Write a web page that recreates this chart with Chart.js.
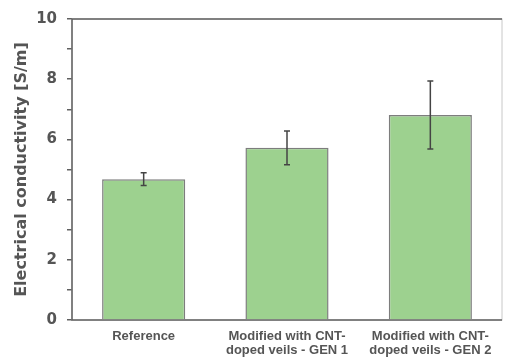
<!DOCTYPE html>
<html>
<head>
<meta charset="utf-8">
<script src="https://cdn.jsdelivr.net/npm/chart.js@4"></script>
<style>
  html, body { margin: 0; padding: 0; background: #fff; }
  #wrap { width: 506px; height: 357px; }
</style>
</head>
<body>
<div id="wrap"><canvas id="condChart"></canvas></div>
<script>
// Données
const categories = ['Reference', ['Modified with CNT-', 'doped veils - GEN 1'], ['Modified with CNT-', 'doped veils - GEN 2']];
const conductivity = [4.68, 5.72, 6.81];
const errors = [0.21, 0.56, 1.13];
const yTicks = [0, 2, 4, 6, 8, 10];

const axisGrey = '#606060';
const textGrey = '#555555';
const fontFamily = 'DejaVu Sans';

// Barres d'erreur dessinées via les échelles
const errorBarPlugin = {
    id: 'errorBars',
    afterDatasetsDraw(chart) {
        const ctx = chart.ctx;
        const x = chart.scales.x;
        const y = chart.scales.y;
        ctx.save();
        ctx.strokeStyle = '#444';
        ctx.lineWidth = 1.5;
        conductivity.forEach((v, i) => {
            const cx = x.getPixelForValue(i);
            const top = y.getPixelForValue(v + errors[i]);
            const bot = y.getPixelForValue(v - errors[i]);
            ctx.beginPath();
            ctx.moveTo(cx, top); ctx.lineTo(cx, bot);
            ctx.moveTo(cx - 3, top); ctx.lineTo(cx + 3, top);
            ctx.moveTo(cx - 3, bot); ctx.lineTo(cx + 3, bot);
            ctx.stroke();
        });
        ctx.restore();
    }
};

// Cadre du graphique
const framePlugin = {
    id: 'frame',
    beforeDatasetsDraw(chart) {
        const { ctx, chartArea: a } = chart;
        ctx.save();
        ctx.strokeStyle = '#c8c8c8';
        ctx.lineWidth = 1;
        ctx.strokeRect(a.left, a.top, a.right - a.left, a.bottom - a.top);
        ctx.strokeStyle = axisGrey;
        ctx.lineWidth = 1.5;
        ctx.beginPath();
        ctx.moveTo(a.right, a.top); ctx.lineTo(a.left, a.top);
        ctx.lineTo(a.left, a.bottom); ctx.lineTo(a.right, a.bottom);
        ctx.stroke();
        ctx.restore();
    }
};

new Chart(document.getElementById('condChart'), {
    type: 'bar',
    data: {
        labels: categories,
        datasets: [{
            data: conductivity,
            backgroundColor: '#9dd18f',
            borderColor: '#7d7d7d',
            borderWidth: 1.5,
            categoryPercentage: 1,
            barPercentage: 0.58
        }]
    },
    options: {
        responsive: true,
        maintainAspectRatio: false,
        animation: false,
        layout: { padding: { top: 14, right: 4, left: 0, bottom: 0 } },
        plugins: {
            legend: { display: false },
            tooltip: { enabled: false }
        },
        scales: {
            x: {
                grid: { display: false, drawTicks: false },
                border: { display: false },
                ticks: {
                    color: textGrey,
                    font: { family: 'Liberation Sans', size: 13, weight: 'bold', lineHeight: 1.08 },
                    maxRotation: 0,
                    autoSkip: false,
                    padding: 9
                },
                afterFit(scale) { scale.height = 37; }
            },
            y: {
                min: 0,
                max: 10,
                grid: { display: true, drawOnChartArea: false, drawTicks: true, tickLength: 5, color: axisGrey, lineWidth: 1.5 },
                border: { display: false },
                ticks: {
                    stepSize: 1,
                    color: textGrey,
                    font: { family: fontFamily, size: 15, weight: 'bold' },
                    padding: 10,
                    callback: v => yTicks.includes(v) ? v : ''
                },
                title: {
                    display: true,
                    text: 'Electrical conductivity [S/m]',
                    color: textGrey,
                    font: { family: fontFamily, size: 16, weight: 'bold' },
                    padding: { top: 12, bottom: 0 }
                },
                afterFit(scale) { scale.width = 72; }
            }
        }
    },
    plugins: [framePlugin, errorBarPlugin]
});
</script>
</body>
</html>
